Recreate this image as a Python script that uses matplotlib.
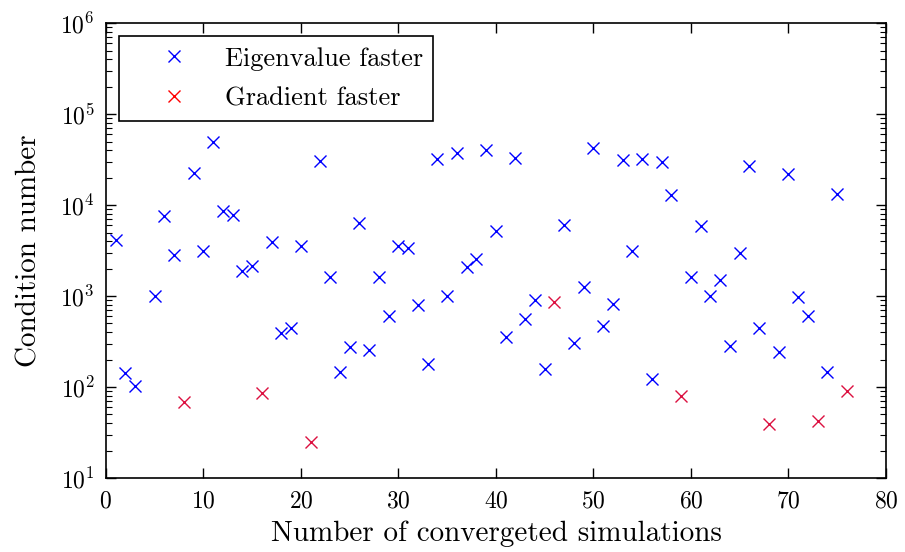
import numpy as np
import matplotlib
matplotlib.use('Agg')
import matplotlib.pyplot as plt
from matplotlib.lines import Line2D
from matplotlib.ticker import LogLocator, MultipleLocator

plt.rcParams['font.family'] = 'cmr10'
plt.rcParams['mathtext.fontset'] = 'cm'
plt.rcParams['axes.formatter.use_mathtext'] = True

# simulations where eigenvalue method was faster
eig_x = [1, 2, 3, 5, 6, 7, 9, 10, 11, 12, 13, 14, 15, 17, 18, 19, 20, 22, 23, 24,
         25, 26, 27, 28, 29, 30, 31, 32, 33, 34, 35, 36, 37, 38, 39, 40, 41, 42, 43, 44,
         45, 47, 48, 49, 50, 51, 52, 53, 54, 55, 56, 57, 58, 60, 61, 62, 63, 64, 65, 66,
         67, 69, 70, 71, 72, 74, 75]
eig_cond = [4140, 143, 102, 1007, 7590, 2810, 22600, 3160, 49300, 8600, 7770, 1905, 2150,
            3960, 394, 447, 3580, 30500, 1615, 146,
            275, 6300, 258, 1640, 608, 3580, 3400, 803, 180, 31900, 1015, 37400, 2110, 2540,
            40700, 5230, 352, 33300, 560, 896,
            158, 6040, 305, 1257, 42800, 473, 824, 31700, 3160, 31900, 123, 30100, 12980,
            1640, 5890, 990, 1510, 280, 3000, 26700,
            447, 241, 21900, 966, 608, 146, 13400]

# simulations where gradient method was faster
grad_x = [8, 16, 21, 46, 59, 68, 73, 76]
grad_cond = [68, 86, 25, 851, 79, 39, 42.6, 90]

fig = plt.figure(figsize=(9.05, 5.52), dpi=100)
ax = fig.add_axes([0.117, 0.134, 0.862, 0.824])

ax.plot(eig_x, eig_cond, 'x', color='b', ms=9, mew=1.0)
ax.plot(grad_x, grad_cond, 'x', color='#dc1040', ms=9, mew=1.0)

ax.set_yscale('log')
ax.set_xlim(0, 80)
ax.set_ylim(10, 1e6)
ax.xaxis.set_major_locator(MultipleLocator(10))
ax.yaxis.set_major_locator(LogLocator(base=10, numticks=10))
ax.yaxis.set_minor_locator(LogLocator(base=10, subs=np.arange(2, 10), numticks=20))
ax.tick_params(which='both', direction='in', top=True, right=True, labelsize=17)
ax.tick_params(which='major', length=7, width=1)
ax.tick_params(which='minor', length=4, width=0.8)
ax.tick_params(axis='x', which='minor', top=False, bottom=False)
ax.tick_params(axis='x', which='major', pad=9)
ax.tick_params(axis='y', which='major', pad=8)
for s in ax.spines.values():
    s.set_linewidth(1.2)

ax.set_xlabel('Number of convergeted simulations', fontsize=21, labelpad=6)
ax.set_ylabel('Condition number', fontsize=21, labelpad=13)

handles = [Line2D([], [], ls='none', marker='x', color='b', ms=9, mew=1.0),
           Line2D([], [], ls='none', marker='x', color='r', ms=9, mew=1.0)]
leg = ax.legend(handles, ['Eigenvalue faster', 'Gradient faster'], loc='upper left',
                fontsize=19, fancybox=False, edgecolor='k', framealpha=1,
                borderaxespad=0.5, handletextpad=0.2, handlelength=3.4,
                borderpad=0.4, labelspacing=0.6)
leg.get_frame().set_linewidth(1.2)

fig.savefig('out.png', dpi=100)
